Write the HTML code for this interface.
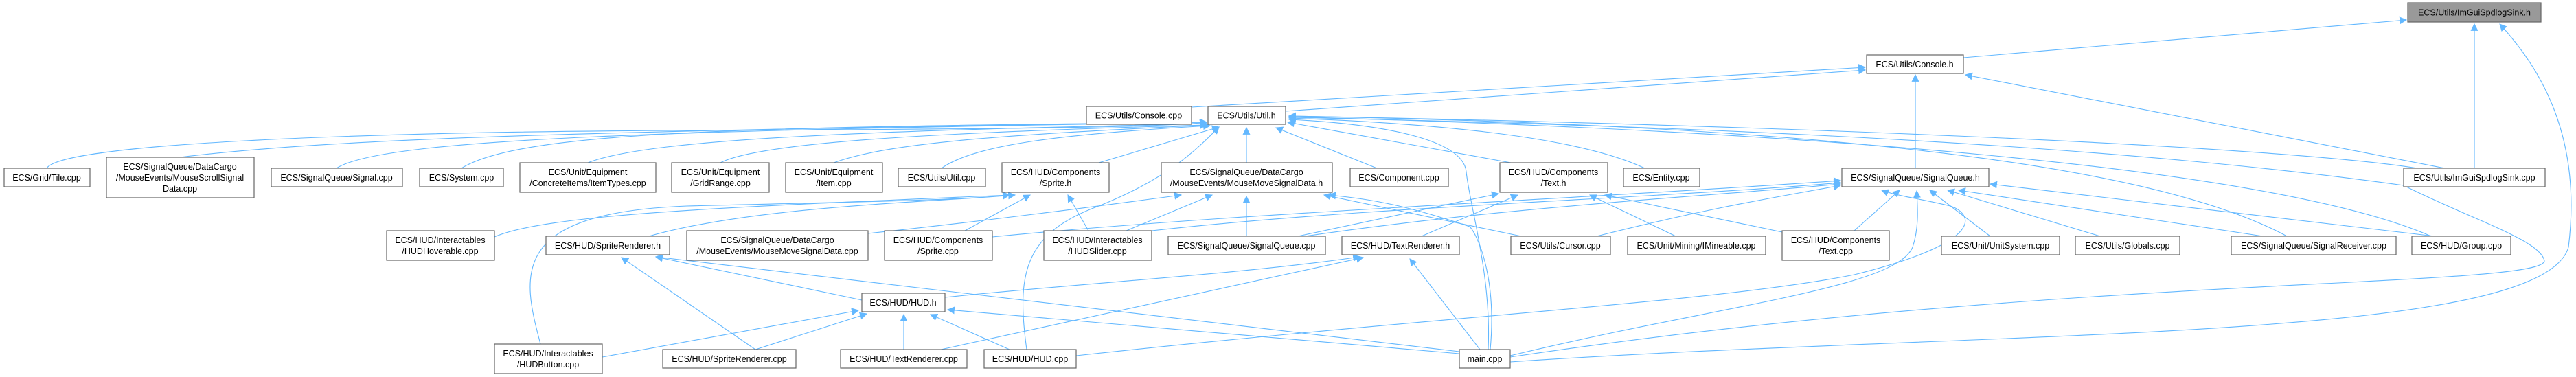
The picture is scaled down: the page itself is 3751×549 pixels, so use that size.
<!DOCTYPE html>
<html><head><meta charset="utf-8"><style>
html,body{margin:0;padding:0;background:#fff;}
svg{display:block;}
text{font-family:"Liberation Sans",Arial,sans-serif;font-size:12.5px;fill:#000;}
.n{fill:#fff;stroke:#666;stroke-width:1.2;}
.g{fill:#999;stroke:#666;stroke-width:1.2;}
.e{fill:none;stroke:#63b8ff;stroke-width:1.1;marker-end:url(#a);}
</style></head><body>
<svg width="3751" height="549" viewBox="0 0 3751 549" xmlns="http://www.w3.org/2000/svg">
<defs><marker id="a" viewBox="0 0 10 10" refX="9" refY="5" markerWidth="11" markerHeight="11" markerUnits="userSpaceOnUse" orient="auto"><path d="M0,0 L10,5 L0,10 z" fill="#63b8ff"/></marker></defs>
<g>
<path class="e" d="M2859 84 L3504 29"/>
<path class="e" d="M3603 245 L3603 35"/>
<path class="e" d="M2199 527 C2900 480 3700 500 3740 360 C3760 200 3700 100 3640 35"/>
<path class="e" d="M1735 156 L2716 98"/>
<path class="e" d="M1872 162 L2716 102"/>
<path class="e" d="M2789 245 L2789 109"/>
<path class="e" d="M3560 245 L2862 109"/>
<path class="e" d="M68 245 C90 210 500 192 1000 190 C1500 188 1700 185 1757 178"/>
<path class="e" d="M262 229 C500 200 900 190 1757 178"/>
<path class="e" d="M490 245 C560 200 1000 190 1757 178"/>
<path class="e" d="M672 245 C760 190 1100 185 1757 178"/>
<path class="e" d="M856 237 C950 200 1300 190 1757 180"/>
<path class="e" d="M1049 237 C1110 205 1400 192 1757 182"/>
<path class="e" d="M1214 237 C1300 205 1500 195 1757 182"/>
<path class="e" d="M1371 245 C1420 210 1550 195 1762 183"/>
<path class="e" d="M1600 237 L1775 185"/>
<path class="e" d="M1815 237 L1815 186"/>
<path class="e" d="M2005 245 L1858 186"/>
<path class="e" d="M2200 237 L1875 178"/>
<path class="e" d="M2395 245 C2300 200 2100 180 1877 172"/>
<path class="e" d="M3520 245 C3300 210 2500 180 1877 169"/>
<path class="e" d="M3330 344 C3100 220 2500 180 1877 169"/>
<path class="e" d="M3540 344 C3300 240 2600 190 1877 170"/>
<path class="e" d="M2199 520 C3000 400 3700 420 3705 380 C3700 350 3600 320 3500 270 C3000 200 2300 180 1877 171"/>
<path class="e" d="M2167 509 C2172 400 2140 300 2135 250 C2130 200 2000 180 1877 174"/>
<path class="e" d="M1495 509 C1480 400 1490 340 1600 300 C1700 260 1740 220 1775 185"/>
<path class="e" d="M720 345 C800 310 1100 300 1470 284"/>
<path class="e" d="M787 501 C760 400 740 310 1000 300 C1200 295 1400 292 1470 284"/>
<path class="e" d="M945 344 C1100 300 1350 295 1478 284"/>
<path class="e" d="M1405 336 L1500 284"/>
<path class="e" d="M1585 336 L1555 284"/>
<path class="e" d="M1640 336 L1765 284"/>
<path class="e" d="M1264 340 C1450 320 1600 300 1720 284"/>
<path class="e" d="M1815 344 L1815 286"/>
<path class="e" d="M2215 344 L1928 284"/>
<path class="e" d="M2170 509 C2180 400 2150 340 2140 330 C2050 300 2000 290 1935 284"/>
<path class="e" d="M1890 344 L2182 282"/>
<path class="e" d="M2070 344 L2210 284"/>
<path class="e" d="M2440 344 L2315 284"/>
<path class="e" d="M2595 338 L2337 284"/>
<path class="e" d="M2700 336 L2766 277"/>
<path class="e" d="M2898 344 L2810 277"/>
<path class="e" d="M3058 344 L2836 277"/>
<path class="e" d="M3295 344 L2852 277"/>
<path class="e" d="M3545 344 L2898 268"/>
<path class="e" d="M2199 518 C2500 445 2760 420 2785 360 C2795 330 2792 300 2791 278"/>
<path class="e" d="M1567 518 C2100 460 2500 440 2700 400 C2900 350 2870 310 2840 300 C2800 290 2760 285 2740 277"/>
<path class="e" d="M2325 344 C2500 300 2600 285 2680 270"/>
<path class="e" d="M1900 344 C2200 300 2500 285 2680 268"/>
<path class="e" d="M1677 336 C2000 300 2400 290 2680 266"/>
<path class="e" d="M1445 345 C1800 310 2300 290 2680 263"/>
<path class="e" d="M1100 509 L905 375"/>
<path class="e" d="M1255 437 L955 374"/>
<path class="e" d="M2125 512 L955 374"/>
<path class="e" d="M877 520 L1250 452"/>
<path class="e" d="M1100 509 L1262 457"/>
<path class="e" d="M1316 509 L1316 458"/>
<path class="e" d="M1470 509 L1355 458"/>
<path class="e" d="M2125 515 L1380 451"/>
<path class="e" d="M1376 433 C1600 410 1800 400 1980 374"/>
<path class="e" d="M1370 509 L1985 375"/>
<path class="e" d="M2155 509 L2053 377"/>
</g>
<g>
<rect class="g" x="3506" y="4" width="194" height="28"/><text x="3603" y="22.5" text-anchor="middle">ECS/Utils/ImGuiSpdlogSink.h</text>
<rect class="n" x="2718" y="80" width="141" height="27"/><text x="2788" y="98" text-anchor="middle">ECS/Utils/Console.h</text>
<rect class="n" x="1582" y="155" width="153" height="26"/><text x="1658" y="172.5" text-anchor="middle">ECS/Utils/Console.cpp</text>
<rect class="n" x="1759" y="155" width="113" height="26"/><text x="1815" y="172.5" text-anchor="middle">ECS/Utils/Util.h</text>
<rect class="n" x="6" y="245" width="125" height="27"/><text x="68" y="263" text-anchor="middle">ECS/Grid/Tile.cpp</text>
<rect class="n" x="155" y="229" width="215" height="59"/><text x="262" y="247" text-anchor="middle">ECS/SignalQueue/DataCargo</text><text x="262" y="263" text-anchor="middle">/MouseEvents/MouseScrollSignal</text><text x="262" y="279" text-anchor="middle">Data.cpp</text>
<rect class="n" x="395" y="245" width="191" height="27"/><text x="490" y="263" text-anchor="middle">ECS/SignalQueue/Signal.cpp</text>
<rect class="n" x="611" y="245" width="122" height="27"/><text x="672" y="263" text-anchor="middle">ECS/System.cpp</text>
<rect class="n" x="757" y="237" width="198" height="43"/><text x="856" y="255" text-anchor="middle">ECS/Unit/Equipment</text><text x="856" y="271" text-anchor="middle">/ConcreteItems/ItemTypes.cpp</text>
<rect class="n" x="978" y="237" width="142" height="43"/><text x="1049" y="255" text-anchor="middle">ECS/Unit/Equipment</text><text x="1049" y="271" text-anchor="middle">/GridRange.cpp</text>
<rect class="n" x="1144" y="237" width="141" height="43"/><text x="1214" y="255" text-anchor="middle">ECS/Unit/Equipment</text><text x="1214" y="271" text-anchor="middle">/Item.cpp</text>
<rect class="n" x="1308" y="245" width="127" height="27"/><text x="1371" y="263" text-anchor="middle">ECS/Utils/Util.cpp</text>
<rect class="n" x="1459" y="237" width="156" height="43"/><text x="1537" y="255" text-anchor="middle">ECS/HUD/Components</text><text x="1537" y="271" text-anchor="middle">/Sprite.h</text>
<rect class="n" x="1691" y="237" width="249" height="43"/><text x="1815" y="255" text-anchor="middle">ECS/SignalQueue/DataCargo</text><text x="1815" y="271" text-anchor="middle">/MouseEvents/MouseMoveSignalData.h</text>
<rect class="n" x="1966" y="245" width="143" height="27"/><text x="2037" y="263" text-anchor="middle">ECS/Component.cpp</text>
<rect class="n" x="2184" y="237" width="157" height="43"/><text x="2262" y="255" text-anchor="middle">ECS/HUD/Components</text><text x="2262" y="271" text-anchor="middle">/Text.h</text>
<rect class="n" x="2364" y="245" width="111" height="27"/><text x="2419" y="263" text-anchor="middle">ECS/Entity.cpp</text>
<rect class="n" x="2682" y="245" width="214" height="27"/><text x="2789" y="263" text-anchor="middle">ECS/SignalQueue/SignalQueue.h</text>
<rect class="n" x="3500" y="245" width="206" height="27"/><text x="3603" y="263" text-anchor="middle">ECS/Utils/ImGuiSpdlogSink.cpp</text>
<rect class="n" x="563" y="336" width="157" height="43"/><text x="641" y="354" text-anchor="middle">ECS/HUD/Interactables</text><text x="641" y="370" text-anchor="middle">/HUDHoverable.cpp</text>
<rect class="n" x="795" y="344" width="180" height="27"/><text x="885" y="362" text-anchor="middle">ECS/HUD/SpriteRenderer.h</text>
<rect class="n" x="1000" y="336" width="264" height="43"/><text x="1132" y="354" text-anchor="middle">ECS/SignalQueue/DataCargo</text><text x="1132" y="370" text-anchor="middle">/MouseEvents/MouseMoveSignalData.cpp</text>
<rect class="n" x="1288" y="336" width="157" height="43"/><text x="1366" y="354" text-anchor="middle">ECS/HUD/Components</text><text x="1366" y="370" text-anchor="middle">/Sprite.cpp</text>
<rect class="n" x="1520" y="336" width="157" height="43"/><text x="1598" y="354" text-anchor="middle">ECS/HUD/Interactables</text><text x="1598" y="370" text-anchor="middle">/HUDSlider.cpp</text>
<rect class="n" x="1701" y="344" width="229" height="27"/><text x="1815" y="362" text-anchor="middle">ECS/SignalQueue/SignalQueue.cpp</text>
<rect class="n" x="1954" y="344" width="171" height="27"/><text x="2039" y="362" text-anchor="middle">ECS/HUD/TextRenderer.h</text>
<rect class="n" x="2200" y="344" width="145" height="27"/><text x="2272" y="362" text-anchor="middle">ECS/Utils/Cursor.cpp</text>
<rect class="n" x="2370" y="344" width="201" height="27"/><text x="2470" y="362" text-anchor="middle">ECS/Unit/Mining/IMineable.cpp</text>
<rect class="n" x="2595" y="336" width="156" height="43"/><text x="2673" y="354" text-anchor="middle">ECS/HUD/Components</text><text x="2673" y="370" text-anchor="middle">/Text.cpp</text>
<rect class="n" x="2827" y="344" width="172" height="27"/><text x="2913" y="362" text-anchor="middle">ECS/Unit/UnitSystem.cpp</text>
<rect class="n" x="3022" y="344" width="152" height="27"/><text x="3098" y="362" text-anchor="middle">ECS/Utils/Globals.cpp</text>
<rect class="n" x="3249" y="344" width="240" height="27"/><text x="3369" y="362" text-anchor="middle">ECS/SignalQueue/SignalReceiver.cpp</text>
<rect class="n" x="3512" y="344" width="144" height="27"/><text x="3584" y="362" text-anchor="middle">ECS/HUD/Group.cpp</text>
<rect class="n" x="1255" y="427" width="121" height="27"/><text x="1315" y="445" text-anchor="middle">ECS/HUD/HUD.h</text>
<rect class="n" x="720" y="501" width="157" height="43"/><text x="798" y="519" text-anchor="middle">ECS/HUD/Interactables</text><text x="798" y="535" text-anchor="middle">/HUDButton.cpp</text>
<rect class="n" x="965" y="509" width="194" height="27"/><text x="1062" y="527" text-anchor="middle">ECS/HUD/SpriteRenderer.cpp</text>
<rect class="n" x="1224" y="509" width="184" height="27"/><text x="1316" y="527" text-anchor="middle">ECS/HUD/TextRenderer.cpp</text>
<rect class="n" x="1433" y="509" width="134" height="27"/><text x="1500" y="527" text-anchor="middle">ECS/HUD/HUD.cpp</text>
<rect class="n" x="2125" y="509" width="74" height="27"/><text x="2162" y="527" text-anchor="middle">main.cpp</text>
</g>
</svg>
</body></html>
